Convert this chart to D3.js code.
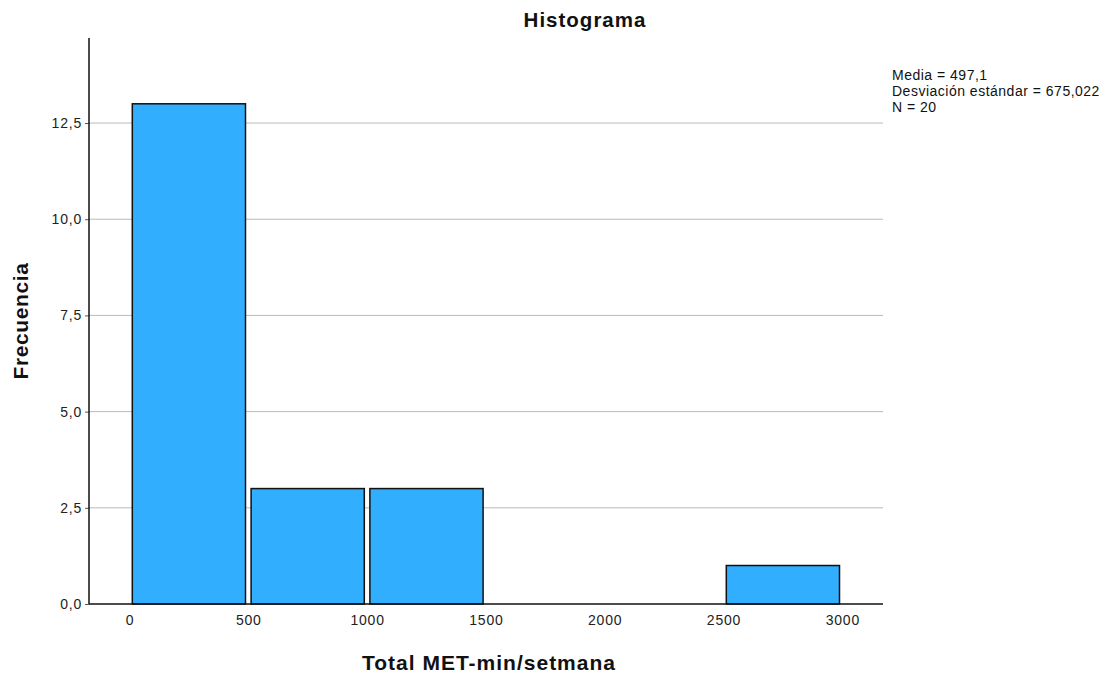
<!DOCTYPE html>
<html><head><meta charset="utf-8">
<script src="https://cdn.jsdelivr.net/npm/d3@7"></script>
<style>body{margin:0;background:#fff}svg{display:block}text{font-family:"Liberation Sans",Arial,sans-serif}</style>
</head><body>
<svg id="c" width="1108" height="673"></svg>
<script>
const binStarts = [0, 500, 1000, 1500, 2000, 2500];
const binWidth = 500;
const counts = [13, 3, 3, 0, 0, 1];
const xTicks = [0, 500, 1000, 1500, 2000, 2500, 3000];
const yTicks = [0, 2.5, 5, 7.5, 10, 12.5];
const statsLines = ["Media = 497,1", "Desviación estándar = 675,022", "N = 20"];
const title = "Histograma", xLabel = "Total MET-min/setmana", yLabel = "Frecuencia";

const svg = d3.select("#c");
const L = 89, R = 883, T = 38, B = 604;
const x = d3.scaleLinear().domain([0, 3000]).range([129.5, 842.3]);
const y = d3.scaleLinear().domain([0, 14.71]).range([B, T]);
const fmt = v => d3.format(".1f")(v).replace(".", ",");

// gridlines
svg.append("g").selectAll("line").data(yTicks.filter(d => d > 0)).join("line")
  .attr("x1", L).attr("x2", R).attr("y1", d => y(d)).attr("y2", d => y(d))
  .attr("stroke", "#b9b9b9").attr("stroke-width", 1);

// bars
const bars = binStarts.map((s, i) => ({s, c: counts[i]})).filter(d => d.c > 0);
svg.append("g").selectAll("rect").data(bars).join("rect")
  .attr("x", d => x(d.s) + 2.8).attr("width", d => x(d.s + binWidth) - x(d.s) - 5.6)
  .attr("y", d => y(d.c)).attr("height", d => y(0) - y(d.c))
  .attr("fill", "#31aefe").attr("stroke", "#111").attr("stroke-width", 1.5);

// axes
const yAxis = svg.append("g").attr("transform", `translate(${L},0)`)
  .call(d3.axisLeft(y).tickValues(yTicks).tickFormat(fmt).tickSize(4).tickPadding(3));
yAxis.select(".domain").remove();
yAxis.selectAll("line").attr("stroke", "#555");
yAxis.selectAll("text").attr("font-size", 14).attr("letter-spacing", 0.8).attr("fill", "#222");
svg.append("line").attr("x1", L).attr("x2", L).attr("y1", T).attr("y2", B).attr("stroke", "#111").attr("stroke-width", 1.5);

const xAxis = svg.append("g").attr("transform", `translate(0,${B})`)
  .call(d3.axisBottom(x).tickValues(xTicks).tickFormat(d3.format("d")).tickSize(0).tickPadding(11));
xAxis.select(".domain").remove();
xAxis.selectAll("text").attr("font-size", 14).attr("letter-spacing", 0.8).attr("fill", "#222");
svg.append("line").attr("x1", L).attr("x2", R).attr("y1", B).attr("y2", B).attr("stroke", "#111").attr("stroke-width", 1.5);

// texts
svg.append("text").attr("x", 585).attr("y", 27).attr("text-anchor", "middle")
  .attr("font-size", 20.5).attr("letter-spacing", 1).attr("font-weight", "bold").attr("fill", "#111").text(title);
svg.append("text").attr("x", 489).attr("y", 670).attr("text-anchor", "middle")
  .attr("font-size", 21).attr("letter-spacing", 1).attr("font-weight", "bold").attr("fill", "#111").text(xLabel);
svg.append("text").attr("transform", "translate(28,321) rotate(-90)").attr("text-anchor", "middle")
  .attr("font-size", 21).attr("letter-spacing", 0.6).attr("font-weight", "bold").attr("fill", "#111").text(yLabel);
svg.append("g").selectAll("text").data(statsLines).join("text")
  .attr("x", 892).attr("y", (d, i) => 80 + i * 16).attr("font-size", 14).attr("letter-spacing", 0.5).attr("fill", "#111").text(d => d);
</script>
</body></html>
